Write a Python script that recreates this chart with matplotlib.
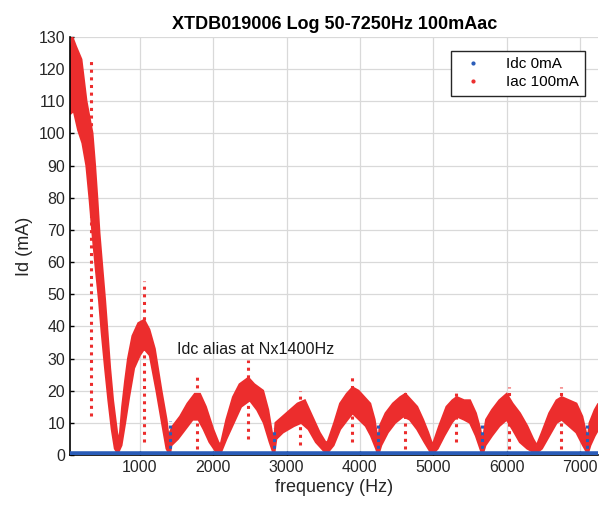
import numpy as np
import matplotlib
matplotlib.use("Agg")
import matplotlib.pyplot as plt
from matplotlib.lines import Line2D

# upper / lower edges of the Iac 100mA point cloud (Hz, mA)
freq_upper = [50, 80, 130, 204, 273, 355, 390, 423, 450, 490, 527, 560, 595, 635, 690, 720,
              760, 800, 840, 900, 980, 1060, 1130, 1204, 1295, 1364, 1400, 1410,
              1450, 1550, 1650, 1750, 1820, 1900, 2000, 2070, 2100,
              2180, 2270, 2360, 2480, 2560, 2680, 2750, 2800, 2830,
              2850, 2950, 3050, 3150, 3250, 3350, 3450, 3530, 3560,
              3650, 3730, 3820, 3900, 3980, 4060, 4140, 4200, 4240, 4250,
              4270, 4350, 4450, 4550, 4620, 4700, 4780, 4860, 4930, 4990,
              5080, 5180, 5260, 5320, 5420, 5500, 5580, 5640, 5670,
              5720, 5800, 5900, 6000, 6080, 6180, 6280, 6360, 6410,
              6480, 6580, 6680, 6750, 6850, 6950, 7030, 7080, 7100,
              7130, 7200, 7250]
id_upper = [125, 130, 127, 123, 110, 100, 90, 79, 69, 58, 48, 38, 27, 17, 7, 4,
            15, 23, 30, 37, 41, 42, 39, 33, 20, 11, 4, 7,
            9, 12, 16, 19, 19, 15, 8, 4, 3,
            11, 18, 22, 24, 22, 20, 14, 7, 4,
            10, 12, 14, 16, 17, 12, 7, 4, 4,
            10, 16, 19, 21, 20, 18, 16, 11, 5, 4,
            9, 13, 16, 18, 19, 17, 15, 11, 7, 3,
            9, 15, 17, 18, 17, 17, 13, 8, 4,
            11, 14, 17, 19, 16, 13, 9, 5, 3,
            7, 13, 17, 18, 17, 16, 12, 7, 4,
            10, 14, 16]

freq_lower = [50, 100, 160, 218, 272, 318, 355, 400, 445, 481, 527, 572, 618, 660, 700,
              750, 800, 854, 922, 1000, 1060, 1136, 1227, 1295, 1364, 1410,
              1430, 1520, 1620, 1720, 1800, 1870, 1950, 2040, 2100,
              2180, 2280, 2380, 2500, 2600, 2690, 2770, 2830,
              2860, 2950, 3100, 3200, 3300, 3400, 3500, 3550,
              3640, 3730, 3830, 3900, 3990, 4080, 4150, 4220, 4250,
              4290, 4380, 4480, 4590, 4680, 4780, 4880, 4960, 5000,
              5060, 5150, 5250, 5320, 5420, 5500, 5580, 5640, 5670,
              5710, 5800, 5900, 6000, 6080, 6180, 6280, 6400,
              6480, 6580, 6680, 6750, 6850, 6950, 7040, 7090, 7100,
              7140, 7200, 7250]
id_lower = [106, 107, 101, 97, 90, 79, 69, 58, 48, 38, 27, 17, 8, 2, 0.5,
            3, 10, 18, 27, 31, 33, 31, 20, 11, 2, 0,
            3, 5, 8, 11, 11, 8, 4, 1, 0.5,
            5, 10, 15, 17, 14, 10, 4, 0,
            5, 7, 9, 10, 8, 4, 1.5, 0.5,
            3, 8, 11, 13, 11, 9, 6, 2, 0,
            3, 7, 10, 12, 11, 8, 4, 1, 0.5,
            2, 6, 10, 12, 11, 10, 6, 2, 0,
            3, 6, 9, 11, 8, 4, 2, 0.5,
            2, 6, 10, 11, 9, 7, 3, 1, 0,
            3, 6, 8]

# vertical streaks of red points
spike_freq = [335, 1054, 1773, 2477, 3182, 3895, 4614, 5309, 6032, 6741]
spike_lo = [12, 4, 2, 5, 3, 4, 2, 4, 2, 2]
spike_hi = [123, 54, 24.5, 29.5, 20, 24.5, 19.5, 20, 21, 21]

# Idc 0mA: flat at zero with small aliases near N x 1400 Hz
idc_freq = [50, 7250]
idc_val = [0.2, 0.2]
alias_freq = [1410, 2830, 4250, 5670, 7100]
alias_hi = [10.5, 8.5, 10, 9.3, 10]

red = "#EC2D2D"
blue = "#2A5CB8"

plt.rcParams["font.family"] = ["Liberation Sans", "DejaVu Sans"]

fig = plt.figure(figsize=(5.99, 5.05), dpi=100)
ax = fig.add_axes([0.117, 0.099, 0.882, 0.828])

poly_x = np.r_[freq_upper, freq_lower[::-1]]
poly_y = np.r_[id_upper, id_lower[::-1]]
ax.fill(poly_x, poly_y, color=red, lw=1.5, ec=red, zorder=2)
ax.vlines(spike_freq, spike_lo, spike_hi, colors=red, linestyles=(0, (1, 1.5)),
          lw=2.2, zorder=2)

ax.plot(idc_freq, idc_val, color=blue, lw=4, solid_capstyle="butt", zorder=3)
ax.vlines(alias_freq, 0, alias_hi, colors=blue, linestyles=(0, (1, 1.2)), lw=2.2, zorder=3)

ax.set_xlim(50, 7250)
ax.set_ylim(0, 130)
ax.set_xticks(np.arange(1000, 7001, 1000))
ax.set_yticks(np.arange(0, 131, 10))
ax.grid(True, color="#d9d9d9", lw=0.9)
ax.set_axisbelow(True)
for s in ["top", "right"]:
    ax.spines[s].set_visible(False)
ax.spines["left"].set_linewidth(1.2)
ax.spines["bottom"].set_linewidth(1.2)
ax.tick_params(direction="in", length=3, labelsize=11.5, labelcolor="#262626", width=1)

ax.set_title("XTDB019006 Log 50-7250Hz 100mAac", fontsize=13, fontweight="bold", pad=6)
ax.set_xlabel("frequency (Hz)", fontsize=13, color="#262626", labelpad=3)
ax.set_ylabel("Id (mA)", fontsize=13, color="#262626", labelpad=4)
ax.text(1505, 32.7, "Idc alias at Nx1400Hz", fontsize=11.6, va="center", ha="left", color="#1a1a1a")

handles = [Line2D([], [], ls="none", marker=".", ms=4, color=blue),
           Line2D([], [], ls="none", marker=".", ms=4, color=red)]
leg = ax.legend(handles, ["Idc 0mA", "Iac 100mA"], loc="upper right",
                bbox_to_anchor=(0.99, 0.985), fancybox=False, framealpha=1,
                edgecolor="#262626", fontsize=11, handletextpad=1.2, borderpad=0.4,
                labelspacing=0.3)
leg.get_frame().set_linewidth(1)

fig.savefig("out.png", dpi=100)
